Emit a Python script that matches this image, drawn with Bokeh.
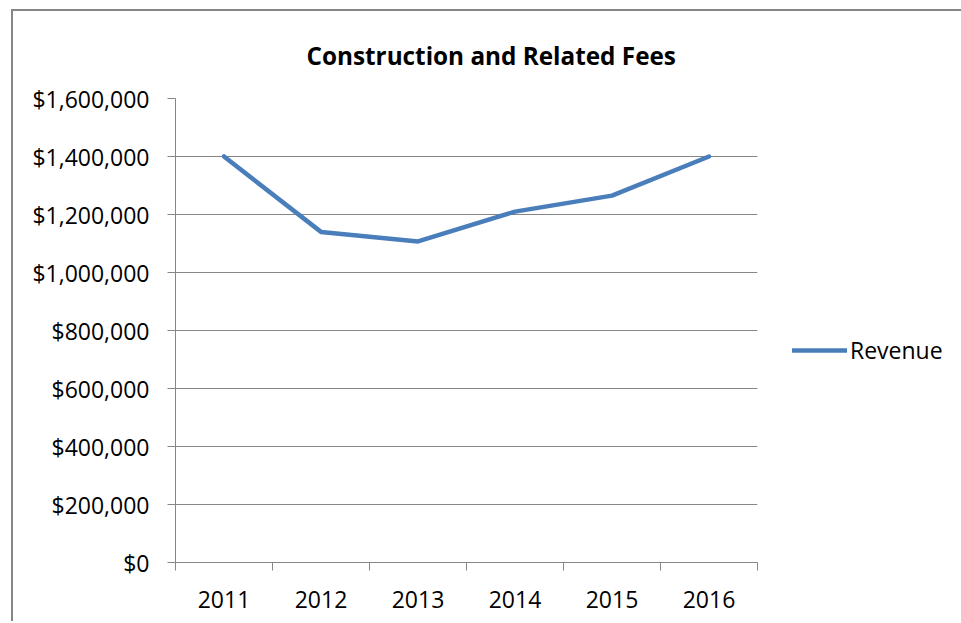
from bokeh.plotting import figure
from bokeh.models import FixedTicker, NumeralTickFormatter, Range1d, Legend, LegendItem
from bokeh.embed import file_html
from bokeh.resources import INLINE

years = ["2011", "2012", "2013", "2014", "2015", "2016"]
revenue = [1400000, 1140000, 1107000, 1210000, 1265000, 1400000]
y_ticks = [0, 200000, 400000, 600000, 800000, 1000000, 1200000, 1400000, 1600000]

FONT = "Open Sans"
GREY = "#868686"

x_pos = [i + 0.5 for i in range(len(years))]
bounds = list(range(len(years) + 1))

p = figure(frame_width=582, frame_height=464, output_backend="svg", toolbar_location=None,
           x_range=Range1d(0, len(years)), y_range=Range1d(0, 1600000),
           min_border_left=162, min_border_right=190, min_border_top=87, min_border_bottom=59)
p.styles = {"border-left": "2px solid #868686", "border-top": "2px solid #868686",
            "margin-left": "11px", "margin-top": "9px"}
p.background_fill_color = "white"
p.border_fill_color = "white"
p.outline_line_color = None

p.title.text = "Construction and Related Fees"
p.title.text_font = FONT
p.title.text_font_size = "24.3px"
p.title.text_font_style = "bold"
p.title.text_color = "black"
p.title.align = "left"
p.title.offset = 131
p.title.standoff = 51
p.title.vertical_align = "middle"

r = p.line(x_pos, revenue, line_color="#4a7ebb", line_width=4.5, line_cap="round", line_join="round")

# x axis
xa = p.xaxis[0]
xa.ticker = FixedTicker(ticks=x_pos, minor_ticks=bounds)
xa.major_label_overrides = {x: y for x, y in zip(x_pos, years)}
xa.major_tick_out = 0
xa.major_tick_in = 0
xa.minor_tick_out = 8
xa.minor_tick_in = 0
xa.minor_tick_line_color = GREY
xa.axis_line_color = GREY
xa.major_label_text_font = FONT
xa.major_label_text_font_size = "23px"
xa.major_label_text_color = "black"
xa.major_label_standoff = 20

# y axis
ya = p.yaxis[0]
ya.ticker = FixedTicker(ticks=y_ticks)
ya.formatter = NumeralTickFormatter(format="$0,0")
ya.major_tick_out = 8
ya.major_tick_in = 0
ya.minor_tick_out = 0
ya.minor_tick_in = 0
ya.major_tick_line_color = GREY
ya.axis_line_color = GREY
ya.major_label_text_font = FONT
ya.major_label_text_font_size = "23px"
ya.major_label_text_color = "black"
ya.major_label_standoff = 18

p.xgrid.grid_line_color = None
p.ygrid.ticker = FixedTicker(ticks=y_ticks)
p.ygrid.grid_line_color = GREY
p.ygrid.grid_line_width = 1

legend = Legend(items=[LegendItem(label="Revenue", renderers=[r])],
                location=(35, 196), orientation="vertical",
                label_text_font=FONT, label_text_font_size="23px", label_text_color="black",
                glyph_width=55, glyph_height=20, label_standoff=3,
                padding=5, margin=0, border_line_color=None, background_fill_color=None)
p.add_layout(legend, "right")

open("out.html", "w").write(file_html(p, INLINE))
